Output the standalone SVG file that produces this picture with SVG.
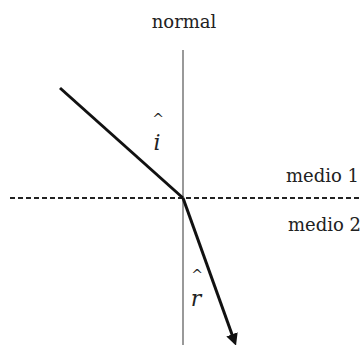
<svg xmlns="http://www.w3.org/2000/svg" width="361" height="345" viewBox="0 0 361 345">
<defs>
<style>
text{font-family:"DejaVu Serif","Liberation Serif",serif;fill:#222}
.ray{stroke:#111;stroke-width:3;fill:none}
</style>
<marker id="ah" markerWidth="4" markerHeight="4" refX="2" refY="2" orient="auto" markerUnits="strokeWidth">
<path d="M0,0 L4,2 L0,4 z" fill="#111"/>
</marker>
</defs>
<rect width="361" height="345" fill="#fff"/>
<g id="connectors">
<line id="normal-line" x1="183" y1="50" x2="183" y2="345" stroke="#999" stroke-width="2"/>
<line id="interface" x1="10" y1="198" x2="361" y2="198" stroke="#222" stroke-width="2" stroke-dasharray="5,3"/>
<line id="incident" class="ray" x1="60" y1="88" x2="183" y2="198"/>
<line id="refracted" class="ray" x1="183" y1="198" x2="234" y2="340" marker-end="url(#ah)"/>
</g>
<g id="label-normal"><text x="184" y="28" font-size="18" text-anchor="middle">normal</text></g>
<g id="label-medio1"><text x="286" y="182" font-size="18">medio 1</text></g>
<g id="label-medio2"><text x="288" y="231" font-size="18">medio 2</text></g>
<g id="label-i">
<text x="158" y="124" font-size="14" text-anchor="middle">^</text>
<text x="157" y="150" font-size="22" font-style="italic" text-anchor="middle">i</text>
</g>
<g id="label-r">
<text x="197" y="280" font-size="14" text-anchor="middle">^</text>
<text x="196" y="306" font-size="22" font-style="italic" text-anchor="middle">r</text>
</g>
</svg>
